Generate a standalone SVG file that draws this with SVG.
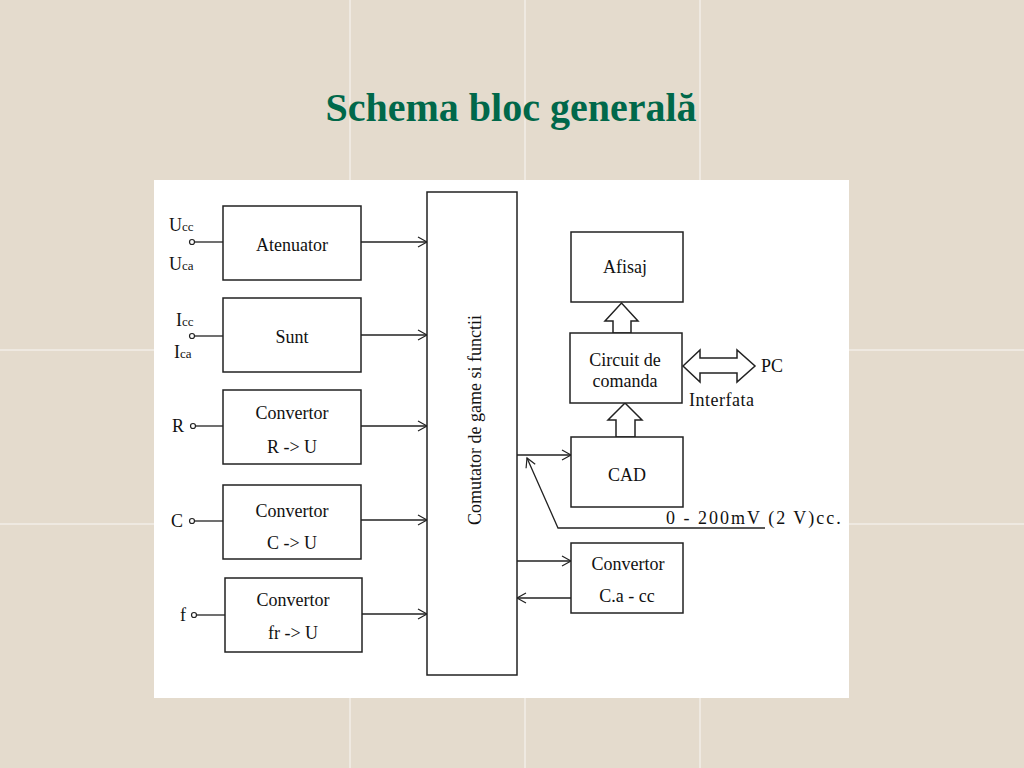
<svg xmlns="http://www.w3.org/2000/svg" width="1024" height="768" viewBox="0 0 1024 768">
<defs>
<marker id="ah" markerWidth="12" markerHeight="12" refX="10" refY="6" orient="auto" markerUnits="userSpaceOnUse">
<path d="M1,1 L10,6 L1,11" fill="none" stroke="#222" stroke-width="1.2"/>
</marker>
<style>
.box{fill:#fff;stroke:#222;stroke-width:1.5}
.ln{fill:none;stroke:#222;stroke-width:1.3}
.ar{fill:none;stroke:#222;stroke-width:1.3;marker-end:url(#ah)}
.t{font-family:"Liberation Serif","Times New Roman",serif;font-size:18px;fill:#111;text-anchor:middle}
.tl{font-family:"Liberation Serif","Times New Roman",serif;font-size:18px;fill:#111}
.sub{font-size:13px}
.grid{stroke:#ffffff;stroke-width:1;opacity:0.8}
.pin{fill:#fff;stroke:#222;stroke-width:1.2}
</style>
</defs>
<rect x="0" y="0" width="1024" height="768" fill="#e4dbcd"/>
<g id="grid">
<line class="grid" x1="350" y1="0" x2="350" y2="768"/>
<line class="grid" x1="525" y1="0" x2="525" y2="768"/>
<line class="grid" x1="700" y1="0" x2="700" y2="768"/>
<line class="grid" x1="0" y1="350" x2="1024" y2="350"/>
<line class="grid" x1="0" y1="524" x2="1024" y2="524"/>
</g>
<text x="511" y="121" font-family="Liberation Serif,'Times New Roman',serif" font-size="40" font-weight="bold" fill="#00684a" text-anchor="middle">Schema bloc generală</text>
<rect x="154" y="180" width="695" height="518" fill="#ffffff"/>

<g id="connectors">
<line class="ln" x1="195" y1="242" x2="223" y2="242"/>
<line class="ln" x1="195" y1="336" x2="223" y2="336"/>
<line class="ln" x1="196" y1="426" x2="223" y2="426"/>
<line class="ln" x1="195" y1="521" x2="223" y2="521"/>
<line class="ln" x1="197" y1="615" x2="225" y2="615"/>
<line class="ar" x1="361" y1="242" x2="427" y2="242"/>
<line class="ar" x1="361" y1="335" x2="427" y2="335"/>
<line class="ar" x1="361" y1="426" x2="427" y2="426"/>
<line class="ar" x1="361" y1="520" x2="427" y2="520"/>
<line class="ar" x1="362" y1="614" x2="427" y2="614"/>
<line class="ar" x1="517" y1="455" x2="571" y2="455"/>
<polyline class="ln" points="765,528 558,528 527,458" marker-end="url(#ah)"/>
<line class="ar" x1="517" y1="561" x2="571" y2="561"/>
<line class="ar" x1="571" y1="598" x2="517" y2="598"/>
<polygon class="box" points="613,333 613,321 605,321 621.5,303 638,321 631,321 631,333"/>
<polygon class="box" points="616,437 616,420 608,420 625,403 642,420 635,420 635,437"/>
<polygon class="box" points="683,366 700,350 700,358 737,358 737,350 755,366 737,382 737,373 700,373 700,382"/>
</g>

<g id="inputs">
<circle class="pin" cx="192" cy="242" r="2.5"/>
<text class="tl" x="169" y="231">U<tspan class="sub">cc</tspan></text>
<text class="tl" x="169" y="270">U<tspan class="sub">ca</tspan></text>
<circle class="pin" cx="192" cy="336" r="2.5"/>
<text class="tl" x="176" y="326">I<tspan class="sub">cc</tspan></text>
<text class="tl" x="174" y="358">I<tspan class="sub">ca</tspan></text>
<circle class="pin" cx="193" cy="426" r="2.5"/>
<text class="tl" x="172" y="432">R</text>
<circle class="pin" cx="192" cy="521" r="2.5"/>
<text class="tl" x="171" y="527">C</text>
<circle class="pin" cx="194" cy="615" r="2.5"/>
<text class="tl" x="180" y="621">f</text>
</g>

<g id="atenuator">
<rect class="box" x="223" y="206" width="138" height="74"/>
<text class="t" x="292" y="251">Atenuator</text>
</g>
<g id="sunt">
<rect class="box" x="223" y="298" width="138" height="74"/>
<text class="t" x="292" y="343">Sunt</text>
</g>
<g id="conv-r">
<rect class="box" x="223" y="390" width="138" height="74"/>
<text class="t" x="292" y="419">Convertor</text>
<text class="t" x="292" y="453">R -&gt; U</text>
</g>
<g id="conv-c">
<rect class="box" x="223" y="485" width="138" height="74"/>
<text class="t" x="292" y="517">Convertor</text>
<text class="t" x="292" y="549">C -&gt; U</text>
</g>
<g id="conv-f">
<rect class="box" x="225" y="578" width="137" height="74"/>
<text class="t" x="293" y="606">Convertor</text>
<text class="t" x="293" y="639">fr -&gt; U</text>
</g>
<g id="comutator">
<rect class="box" x="427" y="192" width="90" height="483"/>
<text class="t" x="0" y="0" transform="translate(481,420) rotate(-90)">Comutator de game si functii</text>
</g>
<g id="afisaj">
<rect class="box" x="571" y="232" width="112" height="70"/>
<text class="t" x="625" y="273">Afisaj</text>
</g>
<g id="circuit">
<rect class="box" x="570" y="333" width="112" height="70"/>
<text class="t" x="625" y="366">Circuit de</text>
<text class="t" x="625" y="387">comanda</text>
</g>
<g id="cad">
<rect class="box" x="571" y="437" width="112" height="70"/>
<text class="t" x="627" y="481">CAD</text>
</g>
<g id="conv-ca">
<rect class="box" x="571" y="543" width="112" height="70"/>
<text class="t" x="628" y="570">Convertor</text>
<text class="t" x="627" y="602">C.a - cc</text>
</g>
<g id="labels">
<text class="tl" x="761" y="372">PC</text>
<text class="tl" x="689" y="406" letter-spacing="0.5">Interfata</text>
<text class="tl" x="666" y="524" letter-spacing="2">0 - 200mV (2 V)cc.</text>
</g>
</svg>
